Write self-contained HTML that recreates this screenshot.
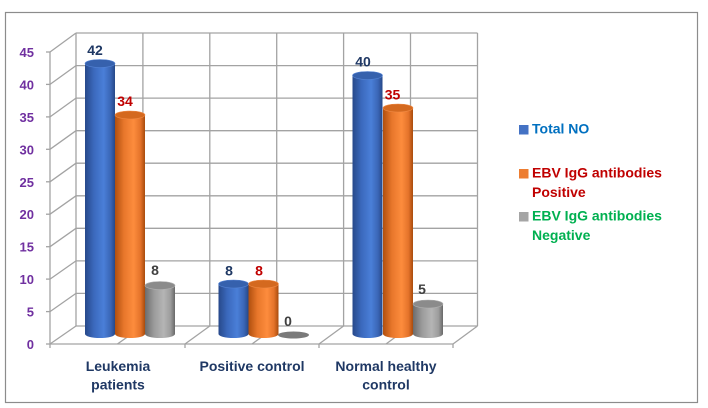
<!DOCTYPE html>
<html><head><meta charset="utf-8"><style>
html,body{margin:0;padding:0;background:#fff;}
svg{display:block;}
text{font-family:"Liberation Sans",Arial,sans-serif;font-weight:bold;}
</style></head><body>
<svg width="708" height="408" viewBox="0 0 708 408" xmlns="http://www.w3.org/2000/svg">
<defs>
<linearGradient id="gb" x1="0" x2="1" y1="0" y2="0">
<stop offset="0" stop-color="#27498a"/><stop offset="0.3" stop-color="#3b69bd"/><stop offset="0.62" stop-color="#4a7fd8"/><stop offset="0.85" stop-color="#3a66b6"/><stop offset="1" stop-color="#264888"/>
</linearGradient>
<linearGradient id="go" x1="0" x2="1" y1="0" y2="0">
<stop offset="0" stop-color="#b04f0e"/><stop offset="0.3" stop-color="#e8772b"/><stop offset="0.62" stop-color="#fd8c3d"/><stop offset="0.85" stop-color="#e4732a"/><stop offset="1" stop-color="#a84b0d"/>
</linearGradient>
<linearGradient id="gg" x1="0" x2="1" y1="0" y2="0">
<stop offset="0" stop-color="#6c6c6c"/><stop offset="0.3" stop-color="#9b9b9b"/><stop offset="0.62" stop-color="#b5b5b5"/><stop offset="0.85" stop-color="#9d9d9d"/><stop offset="1" stop-color="#686868"/>
</linearGradient>
</defs>
<rect x="0" y="0" width="708" height="408" fill="#fff"/>
<rect x="5.5" y="12.5" width="692" height="390" fill="none" stroke="#8c8c8c" stroke-width="1.2"/>

<g stroke="#a3a3a3" stroke-width="1.3" fill="none">
<!-- back wall horizontal -->
<line x1="76" y1="33" x2="477.5" y2="33"/>
<line x1="76" y1="65.6" x2="477.5" y2="65.6"/>
<line x1="76" y1="98.1" x2="477.5" y2="98.1"/>
<line x1="76" y1="130.7" x2="477.5" y2="130.7"/>
<line x1="76" y1="163.2" x2="477.5" y2="163.2"/>
<line x1="76" y1="195.8" x2="477.5" y2="195.8"/>
<line x1="76" y1="228.3" x2="477.5" y2="228.3"/>
<line x1="76" y1="260.9" x2="477.5" y2="260.9"/>
<line x1="76" y1="293.4" x2="477.5" y2="293.4"/>
<line x1="76" y1="326" x2="477.5" y2="326"/>
<!-- back wall vertical -->
<line x1="76" y1="33" x2="76" y2="326"/>
<line x1="142.9" y1="33" x2="142.9" y2="326"/>
<line x1="209.8" y1="33" x2="209.8" y2="326"/>
<line x1="276.7" y1="33" x2="276.7" y2="326"/>
<line x1="343.6" y1="33" x2="343.6" y2="326"/>
<line x1="410.5" y1="33" x2="410.5" y2="326"/>
<line x1="477.5" y1="33" x2="477.5" y2="326"/>
<!-- left wall depth lines -->
<line x1="76" y1="33" x2="50" y2="52"/>
<line x1="76" y1="65.6" x2="50" y2="84.4"/>
<line x1="76" y1="98.1" x2="50" y2="116.9"/>
<line x1="76" y1="130.7" x2="50" y2="149.3"/>
<line x1="76" y1="163.2" x2="50" y2="181.8"/>
<line x1="76" y1="195.8" x2="50" y2="214.2"/>
<line x1="76" y1="228.3" x2="50" y2="246.7"/>
<line x1="76" y1="260.9" x2="50" y2="279.1"/>
<line x1="76" y1="293.4" x2="50" y2="311.6"/>
<line x1="76" y1="326" x2="50" y2="344"/>
<line x1="50" y1="52" x2="50" y2="348"/>
<!-- ticks left -->
<line x1="46" y1="52" x2="50" y2="52"/>
<line x1="46" y1="84.4" x2="50" y2="84.4"/>
<line x1="46" y1="116.9" x2="50" y2="116.9"/>
<line x1="46" y1="149.3" x2="50" y2="149.3"/>
<line x1="46" y1="181.8" x2="50" y2="181.8"/>
<line x1="46" y1="214.2" x2="50" y2="214.2"/>
<line x1="46" y1="246.7" x2="50" y2="246.7"/>
<line x1="46" y1="279.1" x2="50" y2="279.1"/>
<line x1="46" y1="311.6" x2="50" y2="311.6"/>
<line x1="46" y1="344" x2="50" y2="344"/>
<!-- floor -->
<line x1="50" y1="344" x2="453" y2="344"/>
<line x1="453" y1="344" x2="477.5" y2="326"/>
<line x1="142.9" y1="326" x2="117.4" y2="344"/>
<line x1="209.8" y1="326" x2="185" y2="344"/>
<line x1="276.7" y1="326" x2="252" y2="344"/>
<line x1="343.6" y1="326" x2="319" y2="344"/>
<line x1="410.5" y1="326" x2="386" y2="344"/>
<!-- floor ticks -->
<line x1="185" y1="344" x2="185" y2="348"/>
<line x1="319" y1="344" x2="319" y2="348"/>
<line x1="453" y1="344" x2="453" y2="348"/>
</g>

<!-- bars: body from top center t to bottom center 334, rx 15, ry 4 -->
<g>
<!-- Leukemia -->
<path d="M85 63.5 V334 A15 4 0 0 0 115 334 V63.5 Z" fill="url(#gb)"/>
<ellipse cx="100" cy="63.5" rx="15" ry="4" fill="#3661ad" stroke="#5583d4" stroke-width="0.6"/>
<path d="M115 115 V334 A15 4 0 0 0 145 334 V115 Z" fill="url(#go)"/>
<ellipse cx="130" cy="115" rx="15" ry="4" fill="#d4691f" stroke="#f08a45" stroke-width="0.6"/>
<path d="M145 285.5 V334 A15 4 0 0 0 175 334 V285.5 Z" fill="url(#gg)"/>
<ellipse cx="160" cy="285.5" rx="15" ry="4" fill="#8b8b8b" stroke="#b0b0b0" stroke-width="0.6"/>
<!-- Positive control -->
<path d="M218.5 284 V334 A15 4 0 0 0 248.5 334 V284 Z" fill="url(#gb)"/>
<ellipse cx="233.5" cy="284" rx="15" ry="4" fill="#3661ad" stroke="#5583d4" stroke-width="0.6"/>
<path d="M248.5 284 V334 A15 4 0 0 0 278.5 334 V284 Z" fill="url(#go)"/>
<ellipse cx="263.5" cy="284" rx="15" ry="4" fill="#d4691f" stroke="#f08a45" stroke-width="0.6"/>
<ellipse cx="293.5" cy="335" rx="15.5" ry="3.5" fill="#7a7a7a"/>
<!-- Normal healthy -->
<path d="M352.5 75.5 V334 A15 4 0 0 0 382.5 334 V75.5 Z" fill="url(#gb)"/>
<ellipse cx="367.5" cy="75.5" rx="15" ry="4" fill="#3661ad" stroke="#5583d4" stroke-width="0.6"/>
<path d="M383 108 V334 A15 4 0 0 0 413 334 V108 Z" fill="url(#go)"/>
<ellipse cx="398" cy="108" rx="15" ry="4" fill="#d4691f" stroke="#f08a45" stroke-width="0.6"/>
<path d="M413 304 V334 A15 4 0 0 0 443 334 V304 Z" fill="url(#gg)"/>
<ellipse cx="428" cy="304" rx="15" ry="4" fill="#8b8b8b" stroke="#b0b0b0" stroke-width="0.6"/>
</g>

<!-- data labels -->
<g font-size="14" text-anchor="middle">
<text x="95" y="55" fill="#1f3864">42</text>
<text x="125" y="106" fill="#c00000">34</text>
<text x="155" y="275" fill="#404040">8</text>
<text x="229" y="275.5" fill="#1f3864">8</text>
<text x="259" y="275.5" fill="#c00000">8</text>
<text x="288" y="326" fill="#404040">0</text>
<text x="363" y="66.7" fill="#1f3864">40</text>
<text x="392.5" y="99.3" fill="#c00000">35</text>
<text x="422" y="294" fill="#404040">5</text>
</g>

<!-- y axis labels -->
<g font-size="13" fill="#7030a0" text-anchor="end">
<text x="34" y="57">45</text>
<text x="34" y="89.4">40</text>
<text x="34" y="121.9">35</text>
<text x="34" y="154.3">30</text>
<text x="34" y="186.8">25</text>
<text x="34" y="219.2">20</text>
<text x="34" y="251.7">15</text>
<text x="34" y="284.1">10</text>
<text x="34" y="316.6">5</text>
<text x="34" y="349">0</text>
</g>

<!-- category labels -->
<g font-size="14" fill="#1f3864" text-anchor="middle">
<text x="118" y="371">Leukemia</text>
<text x="118" y="389.5">patients</text>
<text x="252" y="371">Positive control</text>
<text x="386" y="371">Normal healthy</text>
<text x="386" y="389.5">control</text>
</g>

<!-- legend -->
<rect x="519" y="125" width="9.5" height="9.5" fill="#4472c4"/>
<rect x="519" y="169" width="9.5" height="9.5" fill="#ed7d31"/>
<rect x="519" y="212" width="9.5" height="9.5" fill="#a5a5a5"/>
<g font-size="14">
<text x="532" y="133.5" fill="#0070c0">Total NO</text>
<text x="532" y="177.5" fill="#c00000">EBV IgG antibodies</text>
<text x="532" y="197" fill="#c00000">Positive</text>
<text x="532" y="220.5" fill="#00b050">EBV IgG antibodies</text>
<text x="532" y="240" fill="#00b050">Negative</text>
</g>
</svg>
</body></html>
